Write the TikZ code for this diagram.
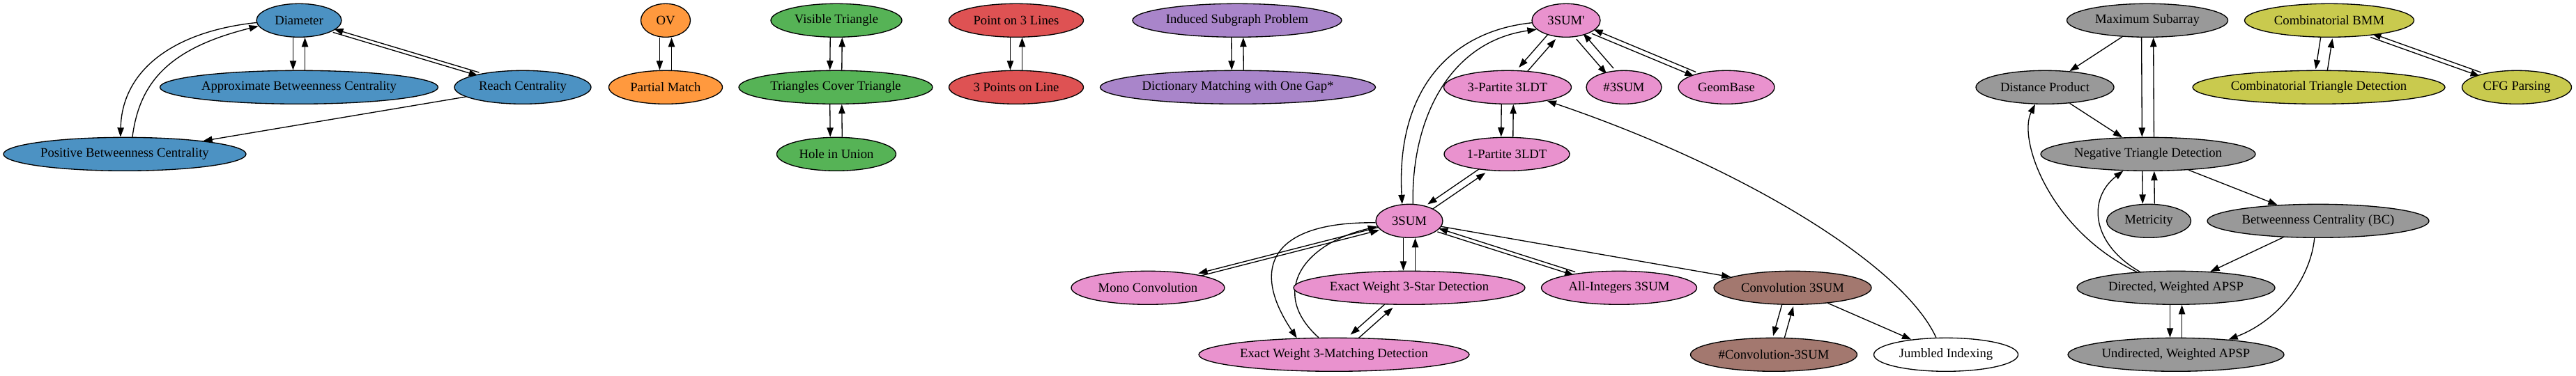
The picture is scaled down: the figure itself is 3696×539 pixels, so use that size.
\documentclass[tikz,border=0pt]{standalone}
\usepackage{fontspec}
\setmainfont{Liberation Serif}
\usetikzlibrary{arrows.meta,calc,shapes.geometric,backgrounds}
\definecolor{cblue}{HTML}{4C92C3}
\definecolor{corange}{HTML}{FF993E}
\definecolor{cgreen}{HTML}{56B356}
\definecolor{cred}{HTML}{DE5253}
\definecolor{cpurple}{HTML}{A985CA}
\definecolor{cpink}{HTML}{E992CE}
\definecolor{cbrown}{HTML}{A3786F}
\definecolor{cgray}{HTML}{999999}
\definecolor{colive}{HTML}{C9CA4E}
\tikzset{
  gnode/.style={ellipse, draw=black, line width=1pt, inner sep=0pt, minimum height=36pt,
    font=\fontsize{14}{16.8}\selectfont, fill=#1},
  arr/.style={draw=black, line width=1pt, -{Triangle[length=10pt,width=7pt]}},
}
% one directed edge, shifted sideways as graphviz does for a pair of opposite edges
\newcommand\gvone[2]{%
  \path let \p1=($(#2)-(#1)$), \n1={atan2(\y1,\x1)} in
    ({6.4*abs(sin(\n1))*sin(\n1)*1pt},{-6.4*abs(sin(\n1))*cos(\n1)*1pt}) coordinate (sh);
  \draw[arr, transform canvas={shift={(sh)}}] (#1) -- (#2);}
\newcommand\gvpair[2]{\gvone{#1}{#2}\gvone{#2}{#1}}
\begin{document}
\begin{tikzpicture}[x=0.75pt,y=-0.75pt]
\useasboundingbox (0,0) rectangle (3696,539);
% blue
\node[gnode=cblue, minimum width=91.5pt] (diam) at (429,29.3) {Diameter};
\node[gnode=cblue, minimum width=299.25pt] (abc) at (429,125.3) {Approximate Betweenness Centrality};
\node[gnode=cblue, minimum width=147pt] (reach) at (750,125.3) {Reach Centrality};
\node[gnode=cblue, minimum width=261pt] (pbc) at (179,221.3) {Positive Betweenness Centrality};
% orange
\node[gnode=corange, minimum width=53.25pt] (ov) at (955,29.3) {OV};
\node[gnode=corange, minimum width=122.25pt] (pm) at (955,125.3) {Partial Match};
% green
\node[gnode=cgreen, minimum width=141pt] (vt) at (1200,29.3) {Visible Triangle};
\node[gnode=cgreen, minimum width=208.5pt] (tct) at (1199,125.3) {Triangles Cover Triangle};
\node[gnode=cgreen, minimum width=128.25pt] (hiu) at (1200,221.3) {Hole in Union};
% red
\node[gnode=cred, minimum width=144.75pt] (p3l) at (1458,29.3) {Point on 3 Lines};
\node[gnode=cred, minimum width=144.75pt] (tpl) at (1458,125.3) {3 Points on Line};
% purple
\node[gnode=cpurple, minimum width=225pt] (isp) at (1775,29.3) {Induced Subgraph Problem};
\node[gnode=cpurple, minimum width=296.25pt] (dmg) at (1776,125.3) {Dictionary Matching with One Gap*};
% pink
\node[gnode=cpink, minimum width=73.5pt] (sp) at (2247,29.3) {3SUM\textquotesingle};
\node[gnode=cpink, minimum width=137.25pt] (tp) at (2163,125.3) {3-Partite 3LDT};
\node[gnode=cpink, minimum width=81pt] (ns) at (2330,125.3) {\#3SUM};
\node[gnode=cpink, minimum width=103.5pt] (geo) at (2477,125.3) {GeomBase};
\node[gnode=cpink, minimum width=135pt] (op) at (2162,221.3) {1-Partite 3LDT};
\node[gnode=cpink, minimum width=72pt] (ts) at (2022,317.3) {3SUM};
\node[gnode=cpink, minimum width=165pt] (mono) at (1647,413.3) {Mono Convolution};
\node[gnode=cpink, minimum width=249pt] (star) at (2022,413.3) {Exact Weight 3-Star Detection};
\node[gnode=cpink, minimum width=167.25pt] (alli) at (2323,413.3) {All-Integers 3SUM};
\node[gnode=cpink, minimum width=291pt] (match) at (1914,509.3) {Exact Weight 3-Matching Detection};
% brown / white
\node[gnode=cbrown, minimum width=169.5pt] (conv) at (2572,413.3) {Convolution 3SUM};
\node[gnode=cbrown, minimum width=179.25pt] (nconv) at (2545,509.3) {\#Convolution-3SUM};
\node[gnode=white, minimum width=155.25pt] (jumb) at (2792,509.3) {Jumbled Indexing};
% gray
\node[gnode=cgray, minimum width=173.25pt] (maxs) at (3081,29.3) {Maximum Subarray};
\node[gnode=cgray, minimum width=148.5pt] (dp) at (2934,125.3) {Distance Product};
\node[gnode=cgray, minimum width=231pt] (ntd) at (3082,221.3) {Negative Triangle Detection};
\node[gnode=cgray, minimum width=90.75pt] (met) at (3083,317.3) {Metricity};
\node[gnode=cgray, minimum width=238.5pt] (bc) at (3326,317.3) {Betweenness Centrality (BC)};
\node[gnode=cgray, minimum width=213pt] (dap) at (3122,413.3) {Directed, Weighted APSP};
\node[gnode=cgray, minimum width=232.5pt] (uap) at (3122,509.3) {Undirected, Weighted APSP};
% olive
\node[gnode=colive, minimum width=182.25pt] (bmm) at (3342,29.3) {Combinatorial BMM};
\node[gnode=colive, minimum width=271.5pt] (ctd) at (3327,125.3) {Combinatorial Triangle Detection};
\node[gnode=colive, minimum width=117.75pt] (cfg) at (3611,125.3) {CFG Parsing};

\begin{pgfonlayer}{background}
% blue
\gvpair{diam}{abc}
\gvpair{diam}{reach}
\draw[arr] (diam.183) .. controls (250,45) and (175,100) .. (pbc.104);
\draw[arr] (pbc.66) .. controls (200,120) and (240,70) .. (diam.188);
\draw[arr] (reach) -- (pbc);
% small groups
\gvpair{ov}{pm}
\gvpair{vt}{tct}
\gvpair{tct}{hiu}
\gvpair{p3l}{tpl}
\gvpair{isp}{dmg}
% 3SUM family
\gvpair{sp}{tp}
\gvpair{sp}{ns}
\gvpair{sp}{geo}
\gvpair{tp}{op}
\gvpair{op}{ts}
\draw[arr] (sp.184) .. controls (2080,45) and (2003,130) .. (ts.113);
\draw[arr] (ts.78) .. controls (2025,170) and (2080,60) .. (sp.197);
\draw[arr] (jumb.120) .. controls (2730,380) and (2500,240) .. (tp.-19);
\gvpair{ts}{mono}
\gvpair{ts}{star}
\gvpair{ts}{alli}
\draw[arr] (ts) -- (conv);
\draw[arr] (ts.183) .. controls (1830,318) and (1790,380) .. (match.156);
\draw[arr] (match.132) .. controls (1820,420) and (1870,350) .. (ts.190);
\gvpair{star}{match}
\gvpair{conv}{nconv}
\draw[arr] (conv) -- (jumb);
% gray
\draw[arr] (maxs) -- (dp);
\gvpair{maxs}{ntd}
\draw[arr] (dp) -- (ntd);
\gvpair{ntd}{met}
\draw[arr] (ntd) -- (bc);
\draw[arr] (bc) -- (dap);
\draw[arr] (bc.-102) .. controls (3315,400) and (3270,460) .. (uap.16);
\draw[arr] (dap.158) .. controls (2940,330) and (2895,200) .. (dp.-120);
\draw[arr] (dap.156) .. controls (3000,350) and (2995,285) .. (ntd.-146);
\gvpair{dap}{uap}
% olive
\gvpair{bmm}{ctd}
\gvpair{bmm}{cfg}
\end{pgfonlayer}
\end{tikzpicture}
\end{document}
